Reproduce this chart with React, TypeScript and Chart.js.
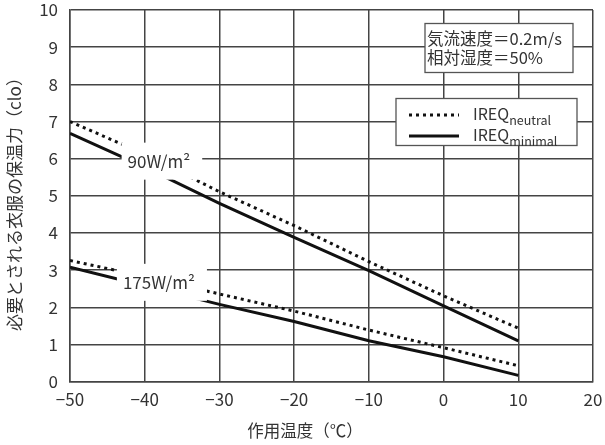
import React, { useEffect, useRef } from "react";
import { Chart, registerables } from "chart.js";

Chart.register(...registerables);

const temps = [-50, -40, -30, -20, -10, 0, 10];
const neutral90 = [7.0, 6.12, 5.11, 4.2, 3.23, 2.31, 1.44];
const minimal90 = [6.68, 5.77, 4.8, 3.88, 2.99, 2.04, 1.1];
const neutral175 = [3.26, 2.83, 2.36, 1.9, 1.39, 0.915, 0.43];
const minimal175 = [3.08, 2.58, 2.08, 1.62, 1.1, 0.67, 0.17];

const metabolicLabels = ["90W/m²", "175W/m²"];
const metabolicLabelX = [-38.1, -38.1];
const metabolicLabelY = [5.92, 2.66];

const xTitle = "作用温度（℃）";
const yTitle = "必要とされる衣服の保温力（clo）";
const conditionLines = ["気流速度＝0.2m/s", "相対湿度＝50%"];
const legendMain = ["IREQ", "IREQ"];
const legendSub = ["neutral", "minimal"];

const FONT = '"Noto Sans CJK JP", "Noto Sans", sans-serif';
const GRID = "#444";
const TEXT = "#333";
const LINE = "#111";

const toPts = (ys: number[]) => temps.map((t, i) => ({ x: t, y: ys[i] }));

const overlayPlugin = {
  id: "overlay",
  afterDatasetsDraw(chart: any) {
    const ctx = chart.ctx;
    const xs = chart.scales.x;
    const ys = chart.scales.y;
    ctx.save();
    ctx.font = `17px ${FONT}`;
    ctx.textBaseline = "middle";
    ctx.textAlign = "center";
    metabolicLabels.forEach((lab, i) => {
      const px = xs.getPixelForValue(metabolicLabelX[i]);
      const py = ys.getPixelForValue(metabolicLabelY[i]);
      const w = ctx.measureText(lab).width;
      ctx.fillStyle = "#fff";
      ctx.fillRect(px - w / 2 - 6, py - 19, w + 18, 37);
      ctx.fillStyle = TEXT;
      ctx.fillText(lab, px, py);
    });
    ctx.restore();
  },
  afterDraw(chart: any) {
    const ctx = chart.ctx;
    ctx.save();
    // condition box
    ctx.fillStyle = "#fff";
    ctx.fillRect(425, 23.5, 148, 49);
    ctx.strokeStyle = "#555";
    ctx.lineWidth = 1.3;
    ctx.strokeRect(425, 23.5, 148, 49);
    ctx.fillStyle = TEXT;
    ctx.font = `16.5px ${FONT}`;
    ctx.textBaseline = "middle";
    ctx.textAlign = "left";
    conditionLines.forEach((t, i) => ctx.fillText(t, 427, 38.5 + i * 19.5));

    // legend box
    ctx.fillStyle = "#fff";
    ctx.fillRect(396, 98.5, 181, 47);
    ctx.strokeRect(396, 98.5, 181, 47);
    const dsets = chart.data.datasets;
    [0, 1].forEach((k) => {
      const ds = dsets[k];
      const yy = k === 0 ? 115 : 136;
      ctx.beginPath();
      ctx.strokeStyle = ds.borderColor;
      ctx.lineWidth = ds.borderWidth;
      ctx.lineCap = "butt";
      ctx.setLineDash(ds.borderDash || []);
      ctx.moveTo(409, yy);
      ctx.lineTo(459, yy);
      ctx.stroke();
      ctx.setLineDash([]);
      ctx.fillStyle = TEXT;
      ctx.textBaseline = "alphabetic";
      ctx.font = `16px ${FONT}`;
      ctx.fillText(legendMain[k], 473, yy + 5);
      const w = ctx.measureText(legendMain[k]).width;
      ctx.font = `12.5px ${FONT}`;
      ctx.fillText(legendSub[k], 473 + w, yy + 10);
    });

    // axis titles
    ctx.fillStyle = TEXT;
    ctx.textAlign = "center";
    ctx.textBaseline = "middle";
    ctx.font = `16.5px ${FONT}`;
    ctx.fillText(xTitle, 305, 431);
    ctx.translate(15, 200);
    ctx.rotate(-Math.PI / 2);
    ctx.font = `17px ${FONT}`;
    ctx.fillText(yTitle, 0, 0);
    ctx.restore();
  },
};

export default function App() {
  const ref = useRef<HTMLCanvasElement | null>(null);
  useEffect(() => {
    if (!ref.current) return;
    const dotted = { borderColor: LINE, borderWidth: 3, borderDash: [3, 4], borderCapStyle: "butt" };
    const solid = { borderColor: LINE, borderWidth: 3, borderDash: [] as number[] };
    const chart = new Chart(ref.current, {
      type: "line",
      data: {
        datasets: [
          { label: "IREQneutral 90", data: toPts(neutral90), ...dotted, pointRadius: 0 } as any,
          { label: "IREQminimal 90", data: toPts(minimal90), ...solid, pointRadius: 0 } as any,
          { label: "IREQneutral 175", data: toPts(neutral175), ...dotted, pointRadius: 0 } as any,
          { label: "IREQminimal 175", data: toPts(minimal175), ...solid, pointRadius: 0 } as any,
        ],
      },
      options: {
        animation: false,
        responsive: false,
        layout: { padding: { top: 10, right: 12, left: 0, bottom: 0 } },
        plugins: { legend: { display: false }, tooltip: { enabled: false } },
        scales: {
          x: {
            type: "linear",
            min: -50,
            max: 20,
            ticks: {
              stepSize: 10,
              color: TEXT,
              font: { family: FONT, size: 17 },
              padding: 8,
              callback: (v: any) => String(v).replace("-", "−"),
            },
            grid: { color: GRID, lineWidth: 1.5, drawTicks: false },
            border: { color: GRID, width: 1.5 },
            afterFit: (s: any) => {
              s.height = 63.3;
              s.paddingLeft = 0;
              s.paddingRight = 0;
            },
          },
          y: {
            min: 0,
            max: 10,
            ticks: {
              stepSize: 1,
              color: TEXT,
              font: { family: FONT, size: 17 },
              padding: 12,
            },
            grid: { color: GRID, lineWidth: 1.5, drawTicks: false },
            border: { color: GRID, width: 1.5 },
            afterFit: (s: any) => {
              s.width = 70;
              s.paddingTop = 0;
              s.paddingBottom = 0;
            },
          },
        },
      } as any,
      plugins: [overlayPlugin],
    });
    return () => chart.destroy();
  }, []);
  return (
    <div style={{ position: "absolute", left: 0, top: 0, width: 605, height: 445, background: "#fff" }}>
      <canvas ref={ref} width={605} height={445} />
    </div>
  );
}
